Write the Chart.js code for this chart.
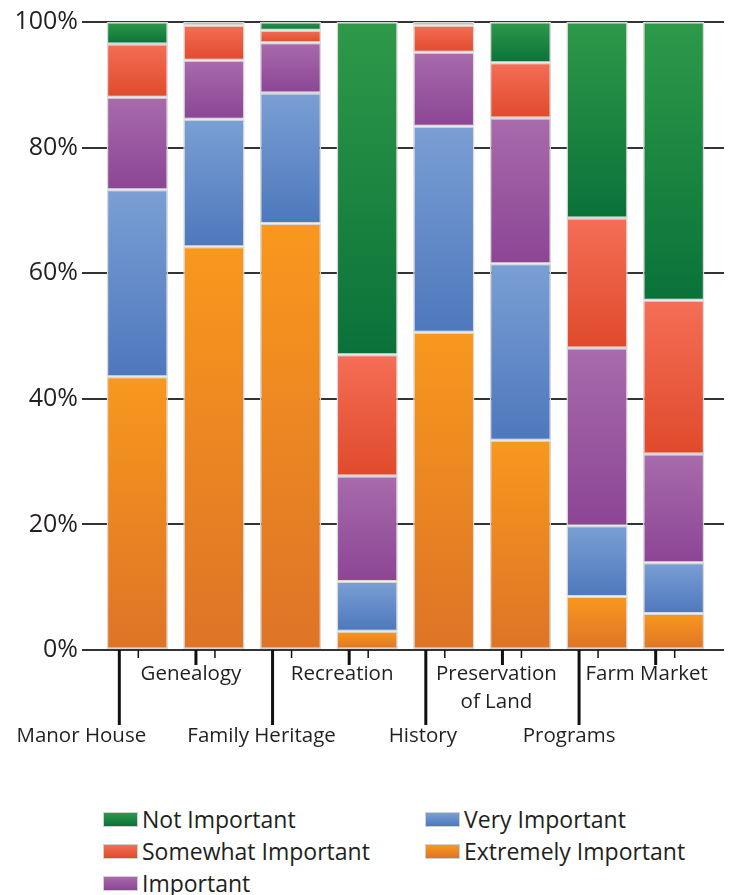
<!DOCTYPE html>
<html>
<head>
    <title>Importance by Topic</title>
    <script src="https://cdn.jsdelivr.net/npm/chart.js"></script>
    <style>
        body { margin: 0; background: #fff; font-family: 'Open Sans', sans-serif; }
        #wrap { position: relative; width: 730px; height: 800px; }
        #legend {
            position: absolute; left: 103px; top: 803px;
            display: grid; grid-template-columns: 322px auto;
            grid-template-rows: repeat(3, 32px); grid-auto-flow: column;
            font-size: 23px; color: #231f20;
        }
        #legend .item { display: flex; align-items: center; white-space: nowrap; }
        #legend .sw { width: 33px; height: 13px; border: 1px solid #d0d0d0; margin-right: 4px; }
    </style>
</head>
<body>
    <div id="wrap">
        <canvas id="myChart" width="730" height="800"></canvas>
    </div>
    <div id="legend"></div>

    <script>
        // categories along the x axis (arrays = multi-line labels)
        const categories = ['Manor House', 'Genealogy', 'Family Heritage', 'Recreation',
            'History', ['Preservation', 'of Land'], 'Programs', 'Farm Market'];

        // percentages, bottom of the stack first
        const extremelyImportant = [43.5, 64.2, 67.9, 3.0, 50.6, 33.4, 8.5, 5.8];
        const veryImportant      = [29.8, 20.3, 20.8, 7.9, 32.8, 28.1, 11.3, 8.1];
        const important          = [14.7, 9.4, 8.0, 16.8, 11.8, 23.2, 28.3, 17.3];
        const somewhatImportant  = [8.5, 5.6, 2.0, 19.3, 4.3, 8.8, 20.7, 24.5];
        const notImportant       = [3.5, 0.5, 1.3, 53.0, 0.5, 6.5, 31.2, 44.3];

        const yTicks = [0, 20, 40, 60, 80, 100];

        // gradient per segment: lighter at top, darker at bottom
        function segmentFill(topColor, bottomColor) {
            return function(c) {
                const chart = c.chart;
                if (!chart.chartArea || c.type !== 'data') return bottomColor;
                const i = c.dataIndex;
                let base = 0;
                for (let d = 0; d < c.datasetIndex; d++) base += chart.data.datasets[d].data[i];
                const v = chart.data.datasets[c.datasetIndex].data[i];
                const y = chart.scales.y;
                const y0 = y.getPixelForValue(base + v);
                const y1 = y.getPixelForValue(base);
                if (!isFinite(y0) || !isFinite(y1) || y0 === y1) return bottomColor;
                const g = chart.ctx.createLinearGradient(0, y0, 0, y1);
                g.addColorStop(0, topColor);
                g.addColorStop(1, bottomColor);
                return g;
            };
        }

        const series = [
            { label: 'Extremely Important', data: extremelyImportant, top: '#f8981d', bottom: '#dd7427' },
            { label: 'Very Important',      data: veryImportant,      top: '#7a9fd4', bottom: '#4e78bd' },
            { label: 'Important',           data: important,          top: '#a86bab', bottom: '#8c4595' },
            { label: 'Somewhat Important',  data: somewhatImportant,  top: '#f46e56', bottom: '#e04a2b' },
            { label: 'Not Important',       data: notImportant,       top: '#2e9949', bottom: '#0a7239' }
        ];

        // x labels with long leader lines, drawn under the axis
        const labelNudge = [-38, -5, -11, -7, -3, -6, -10, -9];
        const axisDecor = {
            id: 'axisDecor',
            beforeDatasetsDraw(chart) {
                const { ctx, chartArea, scales: { y } } = chart;
                ctx.save();
                ctx.strokeStyle = '#333';
                ctx.lineWidth = 2;
                yTicks.forEach(t => {
                    const py = Math.round(y.getPixelForValue(t));
                    ctx.beginPath();
                    ctx.moveTo(chartArea.right, py);
                    ctx.lineTo(chartArea.right + 12, py);
                    ctx.stroke();
                });
                ctx.restore();
            },
            afterDraw(chart) {
                const { ctx, chartArea, scales: { x } } = chart;
                const base = chartArea.bottom;
                ctx.save();
                ctx.strokeStyle = '#111';
                ctx.fillStyle = '#231f20';
                ctx.font = '20.5px "Open Sans"';
                ctx.textAlign = 'center';
                ctx.textBaseline = 'middle';
                categories.forEach((lab, i) => {
                    const cx = x.getPixelForValue(i);
                    const upper = i % 2 === 1;
                    // short tick at bar centre
                    ctx.lineWidth = 1.5;
                    ctx.beginPath();
                    ctx.moveTo(cx + 1, base);
                    ctx.lineTo(cx + 1, base + 8);
                    ctx.stroke();
                    // leader line
                    const lx = cx - 18;
                    ctx.lineWidth = 3;
                    ctx.beginPath();
                    ctx.moveTo(lx, base);
                    ctx.lineTo(lx, base + (upper ? 15 : 75));
                    ctx.stroke();
                    const lines = Array.isArray(lab) ? lab : [lab];
                    const ty = upper ? base + 24 : base + 86;
                    lines.forEach((t, k) => ctx.fillText(t, lx + labelNudge[i], ty + k * 28));
                });
                ctx.restore();
            }
        };

        const ctx = document.getElementById('myChart').getContext('2d');
        window.myChart = new Chart(ctx, {
            type: 'bar',
            data: {
                labels: categories,
                datasets: series.map(s => ({
                    label: s.label,
                    data: s.data,
                    backgroundColor: segmentFill(s.top, s.bottom),
                    borderColor: '#d8d8d8',
                    borderWidth: 1.5,
                    borderSkipped: false,
                    barPercentage: 0.8,
                    categoryPercentage: 1.0
                }))
            },
            options: {
                responsive: false,
                animation: false,
                layout: { padding: { left: 15, right: 18, top: 22, bottom: 142 } },
                plugins: { legend: { display: false }, tooltip: { enabled: false } },
                scales: {
                    x: {
                        stacked: true,
                        grid: { display: false },
                        border: { display: false },
                        ticks: { display: false }
                    },
                    y: {
                        stacked: true,
                        min: 0,
                        max: 100,
                        afterFit(scale) { scale.width = 84; },
                        afterBuildTicks(scale) { scale.ticks = yTicks.map(v => ({ value: v })); },
                        border: { display: false },
                        grid: { color: '#333', lineWidth: 2, tickLength: 17, tickColor: '#333' },
                        ticks: {
                            padding: 4,
                            color: '#231f20',
                            font: { family: 'Open Sans', size: 25 },
                            callback: v => v + '%'
                        }
                    }
                }
            },
            plugins: [axisDecor]
        });

        // legend: column-major, top of the stack first
        const legend = document.getElementById('legend');
        series.slice().reverse().forEach(s => {
            const item = document.createElement('div');
            item.className = 'item';
            const sw = document.createElement('span');
            sw.className = 'sw';
            sw.style.background = 'linear-gradient(' + s.top + ', ' + s.bottom + ')';
            item.appendChild(sw);
            item.appendChild(document.createTextNode(s.label));
            legend.appendChild(item);
        });
    </script>
</body>
</html>
